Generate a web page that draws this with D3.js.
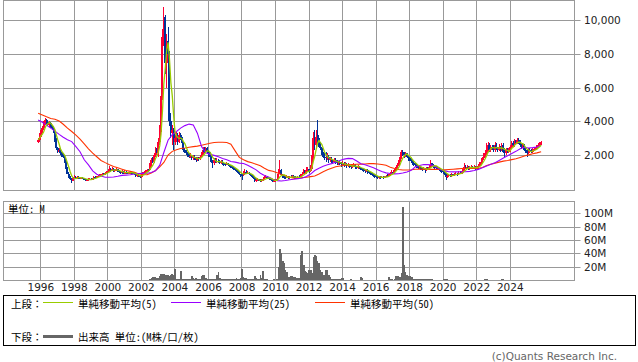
<!DOCTYPE html>
<html><head><meta charset="utf-8">
<script src="https://cdn.jsdelivr.net/npm/d3@7"></script>
<style>
html,body{margin:0;padding:0;background:#fff;}
svg{display:block;}
text{font-family:"DejaVu Sans","Noto Sans CJK JP",sans-serif;}
text.jp{font-family:"Noto Sans Mono CJK JP","Noto Sans CJK JP",sans-serif;}
</style></head><body>
<svg id="chart" width="638" height="362"></svg>
<script>
// ---------- data (monthly candles, Nov 1995 .. Nov 2025) ----------
const firstMonth = { year: 1995, month: 10 }; // 0-based month => Nov 1995

const open = [
 2800, 2900,
 3100, 3400, 3600, 3900, 4100, 3950, 3800, 3900, 3700, 3600, 3400, 2900,
 2400, 2200, 2300, 2100, 2000, 1900, 1600, 1200, 900, 700, 550, 450,
 650, 700, 650, 700, 650, 600, 650, 600, 550, 500, 520, 560,
 600, 550, 600, 700, 650, 700, 750, 800, 850, 900, 850, 950,
 1000, 1050, 1150, 1100, 1200, 1050, 1100, 1150, 1050, 1000, 950, 1000,
 900, 1000, 950, 900, 950, 1000, 950, 900, 850, 750, 800, 750,
 700, 800, 950, 1000, 1050, 1100, 1100, 1400, 1700, 1600, 2000, 2300,
 2100, 2800, 3600, 5500, 9000, 10200, 7500, 8800, 8000, 4000, 3300, 3500,
 2800, 3000, 3100, 2800, 3200, 3000, 2700, 2300, 2200, 2100, 2000, 1900,
 1950, 1800, 1900, 1800, 1700, 1800, 1750, 1900, 2100, 2300, 2200, 2400,
 2200, 2100, 1900, 1600, 1500, 1700, 1600, 1650, 1600, 1550, 1600, 1500,
 1450, 1450, 1500, 1400, 1350, 1300, 1250, 1200, 1100, 1050, 1000, 850,
 800, 800, 950, 1000, 900, 950, 850, 800, 750, 650, 450, 500,
 550, 500, 450, 500, 600, 650, 700, 650, 600, 550, 500, 450,
 480, 500, 550, 900, 1100, 800, 700, 650, 650, 700, 650, 700,
 700, 750, 700, 600, 650, 700, 700, 800, 900, 1000, 950, 1100,
 1150, 1050, 1200, 1800, 3000, 2600, 3100, 3000, 2600, 2400, 2100, 1900,
 1900, 1800, 1900, 1700, 1750, 1650, 1600, 1700, 1600, 1500, 1550, 1500,
 1450, 1500, 1400, 1450, 1350, 1400, 1350, 1300, 1350, 1400, 1300, 1250,
 1300, 1250, 1200, 1150, 1100, 1050, 1100, 1000, 950, 900, 850, 800,
 750, 700, 650, 700, 650, 700, 650, 700, 750, 750, 800, 900,
 1000, 950, 1100, 1200, 1400, 1600, 1800, 2200, 2100, 2000, 2100, 1900,
 1800, 1750, 1650, 1500, 1450, 1400, 1350, 1250, 1300, 1200, 1150, 1200,
 1100, 1200, 1150, 1300, 1500, 1400, 1350, 1300, 1250, 1200, 1150, 1100,
 1050, 1000, 900, 700, 750, 800, 750, 850, 800, 850, 900, 850,
 950, 900, 950, 1100, 1300, 1250, 1300, 1200, 1250, 1300, 1250, 1300,
 1200, 1250, 1350, 1500, 1600, 1800, 1900, 2100, 2400, 2600, 2300, 2500,
 2450, 2300, 2600, 2400, 2300, 2500, 2300, 2600, 2200, 2100, 2300, 2200,
 2300, 2500, 2700, 2600, 2800, 2700, 2900, 2800, 2600, 2500, 2600, 2300,
 2200, 2100, 2300, 2250, 2200, 2300, 2350, 2400, 2500, 2600, 2650
];
const high = [
 3000, 3300,
 3500, 3700, 4000, 4200, 4150, 4000, 4000, 3950, 3800, 3700, 3500, 3000,
 2500, 2400, 2400, 2200, 2100, 2000, 1700, 1300, 1000, 750, 650, 700,
 800, 750, 750, 750, 700, 700, 700, 650, 600, 600, 620, 650,
 650, 650, 750, 750, 750, 800, 850, 900, 950, 950, 1000, 1050,
 1150, 1350, 1250, 1300, 1250, 1200, 1250, 1200, 1100, 1050, 1100, 1050,
 1100, 1050, 1000, 1000, 1050, 1050, 1000, 950, 900, 850, 850, 800,
 850, 1000, 1050, 1100, 1150, 1200, 1500, 1800, 1900, 2100, 2500, 2400,
 3000, 3800, 7800, 9500, 10800, 10300, 9200, 9600, 8200, 4500, 3800, 3600,
 3200, 3400, 3300, 3400, 3300, 3100, 2800, 2400, 2300, 2200, 2100, 2100,
 2000, 2000, 2000, 1900, 1900, 1900, 2000, 2200, 2500, 2500, 2500, 2500,
 2300, 2200, 2000, 1700, 1800, 1800, 1800, 1750, 1700, 1700, 1700, 1550,
 1550, 1600, 1550, 1450, 1400, 1350, 1300, 1250, 1150, 1100, 1050, 900,
 900, 1050, 1200, 1100, 1050, 1000, 900, 850, 800, 700, 600, 650,
 600, 550, 550, 700, 750, 800, 750, 700, 650, 600, 550, 550,
 550, 600, 1200, 1700, 1200, 850, 750, 750, 800, 750, 750, 800,
 800, 800, 750, 700, 750, 800, 900, 1000, 1150, 1100, 1300, 1300,
 1200, 1400, 2000, 3400, 3500, 3500, 4080, 3200, 2800, 2500, 2200, 2100,
 2200, 2100, 2000, 1900, 1900, 1750, 1850, 1800, 1700, 1650, 1650, 1600,
 1650, 1600, 1600, 1500, 1500, 1450, 1450, 1450, 1500, 1450, 1350, 1400,
 1350, 1300, 1250, 1200, 1150, 1200, 1150, 1050, 1000, 950, 900, 850,
 800, 750, 750, 750, 750, 750, 750, 800, 850, 850, 1000, 1100,
 1100, 1200, 1300, 1500, 1700, 1900, 2300, 2300, 2200, 2200, 2150, 2000,
 1950, 1850, 1700, 1600, 1500, 1500, 1400, 1400, 1350, 1250, 1300, 1250,
 1300, 1300, 1400, 1700, 1550, 1450, 1400, 1350, 1300, 1250, 1200, 1150,
 1100, 1050, 950, 850, 900, 850, 950, 900, 950, 1000, 950, 1050,
 1050, 1050, 1200, 1500, 1400, 1400, 1350, 1350, 1400, 1350, 1400, 1350,
 1350, 1450, 1600, 1750, 1900, 2100, 2300, 2700, 2750, 2700, 2600, 2600,
 2600, 2750, 2700, 2500, 2650, 2550, 2700, 2700, 2400, 2400, 2400, 2400,
 2600, 2850, 2850, 2950, 2900, 3030, 3000, 2900, 2700, 2700, 2650, 2400,
 2300, 2400, 2400, 2350, 2400, 2450, 2500, 2600, 2700, 2800, 2850
];
const low = [
 2700, 2800,
 3000, 3300, 3500, 3800, 3850, 3700, 3650, 3600, 3500, 3300, 2800, 2300,
 2100, 2100, 2000, 1900, 1800, 1500, 1100, 850, 650, 500, 340, 450,
 600, 600, 600, 600, 550, 550, 550, 500, 450, 450, 480, 520,
 500, 520, 580, 600, 620, 680, 720, 770, 820, 800, 820, 900,
 950, 1000, 1000, 1050, 1000, 1000, 1050, 1000, 950, 900, 900, 850,
 850, 900, 850, 850, 900, 900, 850, 800, 700, 700, 700, 630,
 650, 750, 900, 950, 1000, 1000, 1050, 1300, 1500, 1500, 1900, 2000,
 1900, 2600, 3400, 5300, 8500, 6800, 6000, 7000, 3700, 3000, 2600, 2300,
 2600, 2800, 2600, 2700, 2900, 2500, 2200, 2100, 2000, 1900, 1800, 1800,
 1700, 1700, 1700, 1600, 1650, 1650, 1700, 1850, 2000, 2100, 2100, 2100,
 1900, 1800, 1500, 1250, 1400, 1500, 1500, 1500, 1450, 1450, 1400, 1350,
 1350, 1400, 1350, 1300, 1250, 1200, 1100, 1050, 1000, 950, 800, 700,
 520, 750, 900, 850, 850, 800, 750, 700, 600, 400, 380, 450,
 450, 400, 420, 480, 580, 620, 600, 550, 500, 450, 380, 420,
 400, 450, 550, 850, 750, 650, 600, 580, 620, 600, 600, 650,
 650, 650, 550, 550, 620, 650, 680, 750, 850, 850, 900, 1000,
 950, 1000, 1100, 1700, 2300, 2500, 2700, 2500, 2300, 2000, 1800, 1700,
 1600, 1700, 1550, 1600, 1500, 1450, 1500, 1450, 1400, 1400, 1400, 1300,
 1350, 1300, 1350, 1250, 1300, 1250, 1200, 1250, 1300, 1200, 1150, 1200,
 1150, 1100, 1050, 1000, 950, 1000, 900, 850, 800, 750, 700, 650,
 620, 580, 600, 600, 620, 600, 620, 680, 700, 720, 780, 880,
 850, 900, 1050, 1150, 1350, 1550, 1750, 1950, 1850, 1900, 1800, 1650,
 1650, 1550, 1400, 1350, 1300, 1250, 1150, 1200, 1100, 1050, 1100, 950,
 1050, 1100, 1100, 1250, 1350, 1250, 1200, 1150, 1100, 1050, 1000, 950,
 900, 800, 520, 650, 700, 700, 720, 750, 750, 800, 780, 800,
 850, 850, 900, 1050, 1150, 1150, 1100, 1100, 1150, 1150, 1150, 1100,
 1150, 1200, 1300, 1450, 1550, 1700, 1800, 2000, 2200, 2200, 2200, 2300,
 2200, 2200, 2300, 2200, 2250, 2200, 2250, 2100, 1900, 2000, 2100, 2100,
 2200, 2400, 2500, 2500, 2600, 2650, 2650, 2500, 2350, 2400, 2250, 2100,
 1900, 2050, 2150, 2100, 2150, 2250, 2300, 2350, 2450, 2500, 2600
];
const close = [
 2900, 3100,
 3400, 3600, 3900, 4100, 3950, 3800, 3900, 3700, 3600, 3400, 2900, 2400,
 2200, 2300, 2100, 2000, 1900, 1600, 1200, 900, 700, 550, 450, 650,
 700, 650, 700, 650, 600, 650, 600, 550, 500, 520, 560, 600,
 550, 600, 700, 650, 700, 750, 800, 850, 900, 850, 950, 1000,
 1050, 1150, 1100, 1200, 1050, 1100, 1150, 1050, 1000, 950, 1000, 900,
 1000, 950, 900, 950, 1000, 950, 900, 850, 750, 800, 750, 700,
 800, 950, 1000, 1050, 1100, 1100, 1400, 1700, 1600, 2000, 2300, 2100,
 2800, 3600, 5500, 9000, 10200, 7500, 8800, 8000, 4000, 3300, 3500, 2800,
 3000, 3100, 2800, 3200, 3000, 2700, 2300, 2200, 2100, 2000, 1900, 1950,
 1800, 1900, 1800, 1700, 1800, 1750, 1900, 2100, 2300, 2200, 2400, 2200,
 2100, 1900, 1600, 1500, 1700, 1600, 1650, 1600, 1550, 1600, 1500, 1450,
 1450, 1500, 1400, 1350, 1300, 1250, 1200, 1100, 1050, 1000, 850, 800,
 800, 950, 1000, 900, 950, 850, 800, 750, 650, 450, 500, 550,
 500, 450, 500, 600, 650, 700, 650, 600, 550, 500, 450, 480,
 500, 550, 900, 1100, 800, 700, 650, 650, 700, 650, 700, 700,
 750, 700, 600, 650, 700, 700, 800, 900, 1000, 950, 1100, 1150,
 1050, 1200, 1800, 3000, 2600, 3100, 3000, 2600, 2400, 2100, 1900, 1900,
 1800, 1900, 1700, 1750, 1650, 1600, 1700, 1600, 1500, 1550, 1500, 1450,
 1500, 1400, 1450, 1350, 1400, 1350, 1300, 1350, 1400, 1300, 1250, 1300,
 1250, 1200, 1150, 1100, 1050, 1100, 1000, 950, 900, 850, 800, 750,
 700, 650, 700, 650, 700, 650, 700, 750, 750, 800, 900, 1000,
 950, 1100, 1200, 1400, 1600, 1800, 2200, 2100, 2000, 2100, 1900, 1800,
 1750, 1650, 1500, 1450, 1400, 1350, 1250, 1300, 1200, 1150, 1200, 1100,
 1200, 1150, 1300, 1500, 1400, 1350, 1300, 1250, 1200, 1150, 1100, 1050,
 1000, 900, 700, 750, 800, 750, 850, 800, 850, 900, 850, 950,
 900, 950, 1100, 1300, 1250, 1300, 1200, 1250, 1300, 1250, 1300, 1200,
 1250, 1350, 1500, 1600, 1800, 1900, 2100, 2400, 2600, 2300, 2500, 2450,
 2300, 2600, 2400, 2300, 2500, 2300, 2600, 2200, 2100, 2300, 2200, 2300,
 2500, 2700, 2600, 2800, 2700, 2900, 2800, 2600, 2500, 2600, 2300, 2200,
 2100, 2300, 2250, 2200, 2300, 2350, 2400, 2500, 2600, 2650, 2750
];

// volume in millions of shares, monthly from Jul 2002
const volumeFirstMonth = { year: 2002, month: 6 };
const volume = [
 2, 2.5, 4.5, 4, 5, 3,
 3.5, 5.5, 9.5, 9, 9, 8, 8, 7, 6.5, 8, 8.5, 8,
 17, 2, 1.5, 2, 14, 2, 2, 1.5, 2, 1.5, 2, 1.5,
 6.5, 3, 2, 3.7, 2, 1.5, 2, 5.5, 7, 7.5, 3.7, 2,
 2, 1.5, 1.5, 1, 1.5, 2, 8, 12.5, 3, 2, 1.5, 1,
 1, 1, 1, 0.8, 1, 1, 0.8, 1, 3, 1, 1.5, 3,
 17, 4.6, 2.5, 2.5, 2, 1, 1, 1.5, 1, 6.5, 3, 2,
 2, 8, 3, 13, 2, 1.5, 1, 0.5, 0.5, 0.5, 0.5, 1,
 0.5, 1, 20, 46, 40, 28, 25, 14.5, 12, 4, 4, 6,
 6, 5, 5, 2.5, 2.5, 3, 38, 43, 23, 13, 12, 10,
 15.5, 15, 10, 35, 38, 36, 28, 26, 14.5, 12, 8, 7,
 15.5, 15, 8, 4, 2, 1, 1, 1, 1, 1, 0.8, 3,
 3, 0.5, 0.5, 0.5, 0.5, 0.5, 2, 0.5, 0.5, 0.5, 0.3, 0.3,
 0.5, 5, 2.5, 0.5, 0.3, 0.3, 0.3, 0.3, 0.3, 0.3, 0.3, 0.3,
 0.3, 0.3, 0.3, 0.3, 0.3, 0.3, 0.3, 0.3, 0.5, 5, 2, 1,
 0.5, 1, 6.5, 6, 5.5, 5, 10, 110, 22, 12, 8, 6.5,
 6, 4, 4, 2, 2, 1, 1, 1, 0.8, 0.8, 0.8, 0.8,
 2, 2, 1.5, 2, 0.8, 0.5, 0.5, 0.5, 0.5, 0.5, 0.5, 0.5,
 2, 2, 1.5, 0.8, 0.5, 0.5, 0.5, 0.5, 0.5, 0.5, 0.5, 0.5,
 0.5, 0.5, 0.5, 0.5, 0.5, 0.5, 0.5, 0.5, 0.5, 0.5, 0.5, 0.5,
 0.5, 0.5, 0.5, 0.5, 0.5, 0.5, 2, 1.5, 0.5, 0.5, 0.5, 0.5,
 0.5, 0.5, 0.5, 0.5, 0.5, 0.5, 2, 1.5, 0.5, 0.5, 0.5, 0.5,
 0.3, 0.3, 0.3, 0.3, 0.3, 0.3, 0.3, 0.3, 0.3, 0.3, 0.3, 0.3,
 0.3, 0.3, 0.3, 0.3, 0.3, 0.3, 0.3, 0.3, 0.3, 0.3, 0.3
];

// 25- and 50-month moving averages, read every 3rd month starting Nov 1995
const maEvery = 3;
const ma25 = [
 4080, 3950, 3780, 3600, 3420, 3230, 3060, 2910, 2800, 2500,
 2200, 1720, 1420, 1060, 860, 750, 680, 680, 700, 740,
 790, 810, 830, 870, 900, 910, 915, 960, 1060, 1400,
 2150, 2880, 3210, 3400, 3600, 3750, 3840, 3790, 3300, 2500,
 2140, 2040, 1980, 1900, 1800, 1720, 1620, 1580, 1520, 1500,
 1400, 1260, 1120, 920, 780, 700, 560, 480, 460, 490,
 530, 560, 600, 640, 720, 870, 1080, 1220, 1330, 1420,
 1490, 1580, 1670, 1760, 1800, 1790, 1650, 1480, 1420, 1340,
 1250, 1130, 1020, 940, 900, 880, 890, 930, 990, 1090,
 1300, 1380, 1440, 1430, 1400, 1280, 1140, 1060, 1010, 1000,
 1000, 1010, 1010, 1030, 1080, 1150, 1240, 1350, 1450, 1540,
 1680, 1820, 1960, 2090, 2220, 2380, 2460, 2420, 2440, 2480,
 2580
];
const ma50 = [
 4480, 4380, 4270, 4170, 4130, 4020, 3830, 3600, 3400, 3190,
 2945, 2660, 2370, 2120, 1900, 1680, 1550, 1430, 1320, 1240,
 1160, 1080, 1030, 970, 870, 840, 830, 930, 1080, 1300,
 1560, 2000, 2220, 2320, 2390, 2420, 2460, 2500, 2530, 2580,
 2640, 2700, 2750, 2760, 2760, 2750, 2650, 2250, 1860, 1720,
 1610, 1540, 1450, 1360, 1220, 1090, 1040, 950, 850, 760,
 680, 630, 630, 660, 680, 720, 760, 870, 1010, 1120,
 1220, 1310, 1350, 1390, 1420, 1440, 1450, 1460, 1470, 1490,
 1490, 1470, 1440, 1390, 1280, 1200, 1140, 1110, 1110, 1130,
 1160, 1170, 1160, 1150, 1150, 1150, 1140, 1120, 1140, 1160,
 1180, 1200, 1210, 1210, 1210, 1220, 1260, 1380, 1450, 1520,
 1580, 1640, 1680, 1730, 1780, 1860, 1940, 2010, 2080, 2130,
 2200
];

const yearTicks = [1996,1998,2000,2002,2004,2006,2008,2010,2012,2014,2016,2018,2020,2022,2024];
const priceTicks = [2000, 4000, 6000, 8000, 10000];
const volumeTicks = [20, 40, 60, 80, 100];

const legendTop = [
  { label: "単純移動平均(5)", color: "#99cc00" },
  { label: "単純移動平均(25)", color: "#9900ff" },
  { label: "単純移動平均(50)", color: "#ff3300" }
];
const legendBottomLabel = "出来高 単位:(M株/口/枚)";

// ---------- layout ----------
const svg = d3.select("#chart");
const L = 3.5, R = 574.5;
const topP = { t: 0.5, b: 190.5 };
const volP = { t: 201.5, b: 280.5 };
const gridColor = "#999999";
const upColor = "#ff0033", downColor = "#003399";

const months = close.map((_, i) => new Date(firstMonth.year, firstMonth.month + i, 15));
const volMonths = volume.map((_, i) => new Date(volumeFirstMonth.year, volumeFirstMonth.month + i, 15));
const maDates = ma25.map((_, k) => months[k * maEvery]);

const x = d3.scaleTime()
  .domain([new Date(1993, 9, 10), new Date(2027, 10, 1)])
  .range([3, 574]);
const y = d3.scaleLinear().domain([-77, 11216]).range([190, 0]);
const yv = d3.scaleLinear().domain([0, 118.5]).range([280, 201]);

const defs = svg.append("defs");
defs.append("clipPath").attr("id", "clipTop").append("rect")
  .attr("x", L).attr("y", topP.t).attr("width", R - L).attr("height", topP.b - topP.t);
defs.append("clipPath").attr("id", "clipVol").append("rect")
  .attr("x", L).attr("y", volP.t).attr("width", R - L).attr("height", volP.b - volP.t);

const yearDates = yearTicks.map(yr => new Date(yr, 0, 1));
const px = d => Math.round(x(d)) + 0.5;

// grids
function grid(panel, hVals, scale) {
  const g = svg.append("g").attr("stroke", gridColor).attr("stroke-width", 1);
  g.selectAll(".v").data(yearDates).join("line")
    .attr("x1", px).attr("x2", px).attr("y1", panel.t).attr("y2", panel.b);
  g.selectAll(".h").data(hVals).join("line")
    .attr("x1", L).attr("x2", R + 6)
    .attr("y1", d => Math.round(scale(d)) + 0.5).attr("y2", d => Math.round(scale(d)) + 0.5);
  g.append("rect").attr("x", L).attr("y", panel.t)
    .attr("width", R - L).attr("height", panel.b - panel.t).attr("fill", "none");
}
grid(topP, priceTicks, y);
grid(volP, volumeTicks, yv);

// right axes (labels)
const yAxis = d3.axisRight(y).tickValues(priceTicks).tickSize(0).tickPadding(10)
  .tickFormat(d3.format(","));
svg.append("g").attr("transform", `translate(${R - 0.5},0)`).call(yAxis)
  .call(g => g.select(".domain").remove())
  .call(g => g.selectAll("text").attr("font-size", 10.5).attr("fill", "#222")
    .style("font-family", "DejaVu Sans"));
const vAxis = d3.axisRight(yv).tickValues(volumeTicks).tickSize(0).tickPadding(10)
  .tickFormat(d => d + "M");
svg.append("g").attr("transform", `translate(${R - 0.5},0)`).call(vAxis)
  .call(g => g.select(".domain").remove())
  .call(g => g.selectAll("text").attr("font-size", 10.5).attr("fill", "#222")
    .style("font-family", "DejaVu Sans"));

// bottom axis (years)
const xAxis = d3.axisBottom(x).tickValues(yearDates).tickSize(0).tickPadding(4)
  .tickFormat(d3.timeFormat("%Y"));
svg.append("g").attr("transform", `translate(0,${volP.b - 0.5})`).call(xAxis)
  .call(g => g.select(".domain").remove())
  .call(g => g.selectAll("text").attr("font-size", 10.5).attr("fill", "#222")
    .style("font-family", "DejaVu Sans"));

// candles
const idx = d3.range(close.length);
const cg = svg.append("g").attr("clip-path", "url(#clipTop)").attr("shape-rendering", "crispEdges");
const col = i => close[i] > open[i] ? upColor : downColor;
cg.selectAll("line.wick").data(idx).join("line").attr("class", "wick")
  .attr("x1", i => x(months[i])).attr("x2", i => x(months[i]))
  .attr("y1", i => y(high[i])).attr("y2", i => y(low[i]))
  .attr("stroke", col).attr("stroke-width", 1);
cg.selectAll("rect.body").data(idx).join("rect").attr("class", "body")
  .attr("x", i => x(months[i]) - 1).attr("width", 2)
  .attr("y", i => y(Math.max(open[i], close[i])))
  .attr("height", i => Math.max(1, Math.abs(y(open[i]) - y(close[i]))))
  .attr("fill", col);

// moving averages
const ma5 = close.map((c, i) => d3.mean(close.slice(Math.max(0, i - 4), i + 1)));
const lg = svg.append("g").attr("clip-path", "url(#clipTop)").attr("fill", "none");
lg.append("path").datum(ma50.map((v, k) => [maDates[k], v]))
  .attr("d", d3.line().x(d => x(d[0])).y(d => y(d[1])))
  .attr("stroke", "#ff3300").attr("stroke-width", 1.1);
lg.append("path").datum(ma25.map((v, k) => [maDates[k], v]))
  .attr("d", d3.line().x(d => x(d[0])).y(d => y(d[1])))
  .attr("stroke", "#9900ff").attr("stroke-width", 1.1);
lg.append("path").datum(ma5.map((v, i) => [months[i], v]))
  .attr("d", d3.line().x(d => x(d[0])).y(d => y(d[1])))
  .attr("stroke", "#99cc00").attr("stroke-width", 1.3);

// volume bars
svg.append("g").attr("clip-path", "url(#clipVol)").attr("shape-rendering", "crispEdges")
  .selectAll("rect").data(volume).join("rect")
  .attr("x", (d, i) => x(volMonths[i]) - 0.8).attr("width", 1.7)
  .attr("y", d => yv(d)).attr("height", d => yv(0) - yv(d))
  .attr("fill", "#666666");

svg.append("text").attr("class", "jp").attr("x", 8).attr("y", 213).attr("font-size", 10.5).attr("fill", "#000")
  .text("単位: M");

// legend
svg.append("rect").attr("x", 3.5).attr("y", 295.5).attr("width", 632).attr("height", 50)
  .attr("fill", "#fff").attr("stroke", "#000").attr("stroke-width", 1);
svg.append("text").attr("class", "jp").attr("x", 11).attr("y", 307.5).attr("font-size", 10.5).text("上段：");
const legX = [43, 171, 315];
legendTop.forEach((d, i) => {
  svg.append("line").attr("x1", legX[i]).attr("x2", legX[i] + 30)
    .attr("y1", 302.5).attr("y2", 302.5).attr("stroke", d.color).attr("stroke-width", 1);
  svg.append("text").attr("class", "jp").attr("x", legX[i] + 35).attr("y", 307.5)
    .attr("font-size", 10.5).text(d.label);
});
svg.append("text").attr("class", "jp").attr("x", 11).attr("y", 340.5).attr("font-size", 10.5).text("下段：");
svg.append("line").attr("x1", 43).attr("x2", 73).attr("y1", 336.5).attr("y2", 336.5)
  .attr("stroke", "#666666").attr("stroke-width", 3);
svg.append("text").attr("class", "jp").attr("x", 78).attr("y", 340.5).attr("font-size", 10.5)
  .text(legendBottomLabel);

svg.append("text").attr("x", 617).attr("y", 360).attr("text-anchor", "end")
  .attr("font-size", 10.5).attr("fill", "#666").text("(c)Quants Research Inc.");
</script>
</body></html>
